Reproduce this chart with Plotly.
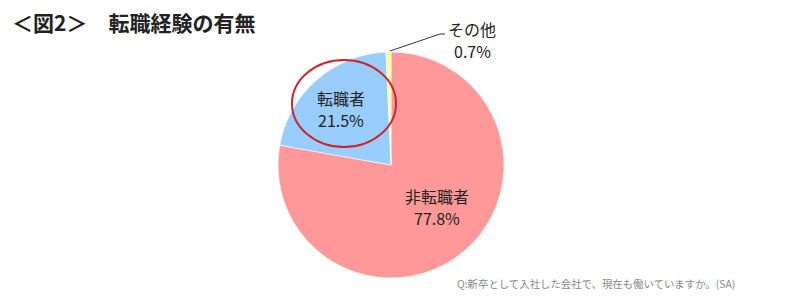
import plotly.graph_objects as go

labels = ["非転職者", "転職者", "その他"]
values = [77.8, 21.5, 0.7]
colors = ["#FF9999", "#99CCFF", "#FFFF99"]
title_text = "＜図2＞　転職経験の有無"
note_text = "Q:新卒として入社した会社で、現在も働いていますか。(SA)"

W, H = 805, 298
def px(x): return x / W
def py(y): return 1 - y / H

FONT = "Noto Sans CJK JP"

fig = go.Figure()
fig.add_trace(go.Pie(
    labels=labels, values=values, sort=False, direction="clockwise", rotation=0,
    marker=dict(colors=colors, line=dict(color="white", width=0.6)),
    textinfo="none", hoverinfo="label+percent", showlegend=False,
    domain=dict(x=[px(278), px(504)], y=[py(278), py(52)]),
))

def txt(x, y, s, size=16):
    fig.add_annotation(x=px(x), y=py(y), xref="paper", yref="paper",
                       text=s, showarrow=False,
                       font=dict(family=FONT, size=size, color="#222"),
                       align="center", xanchor="center", yanchor="middle")

def lab(x, y, name, v):
    txt(x, y - 11, name)
    txt(x, y + 11, f"{v:.1f}%")

lab(341, 109, labels[1], values[1])
lab(437, 207, labels[0], values[0])
lab(472, 40, labels[2], values[2])

# leader line for その他
fig.add_shape(type="line", xref="paper", yref="paper",
              x0=px(390), y0=py(51), x1=px(440), y1=py(34),
              line=dict(color="#333", width=1))
fig.add_shape(type="line", xref="paper", yref="paper",
              x0=px(440), y0=py(34), x1=px(445), y1=py(34),
              line=dict(color="#333", width=1))

# red ellipse
fig.add_shape(type="circle", xref="paper", yref="paper",
              x0=px(292), x1=px(396), y0=py(147), y1=py(60),
              line=dict(color="#C8282A", width=2))

fig.add_annotation(x=px(10), y=py(22), xref="paper", yref="paper",
                   text=f"<b>{title_text}</b>", showarrow=False,
                   font=dict(family=FONT, size=21, color="#222"),
                   xanchor="left", yanchor="middle")
fig.add_annotation(x=px(455), y=py(283), xref="paper", yref="paper",
                   text=note_text, showarrow=False,
                   font=dict(family=FONT, size=10.4, color="#888"),
                   xanchor="left", yanchor="middle")

fig.update_layout(width=W, height=H, margin=dict(l=0, r=0, t=0, b=0),
                  paper_bgcolor="white", plot_bgcolor="white")
fig.write_html("out.html")
